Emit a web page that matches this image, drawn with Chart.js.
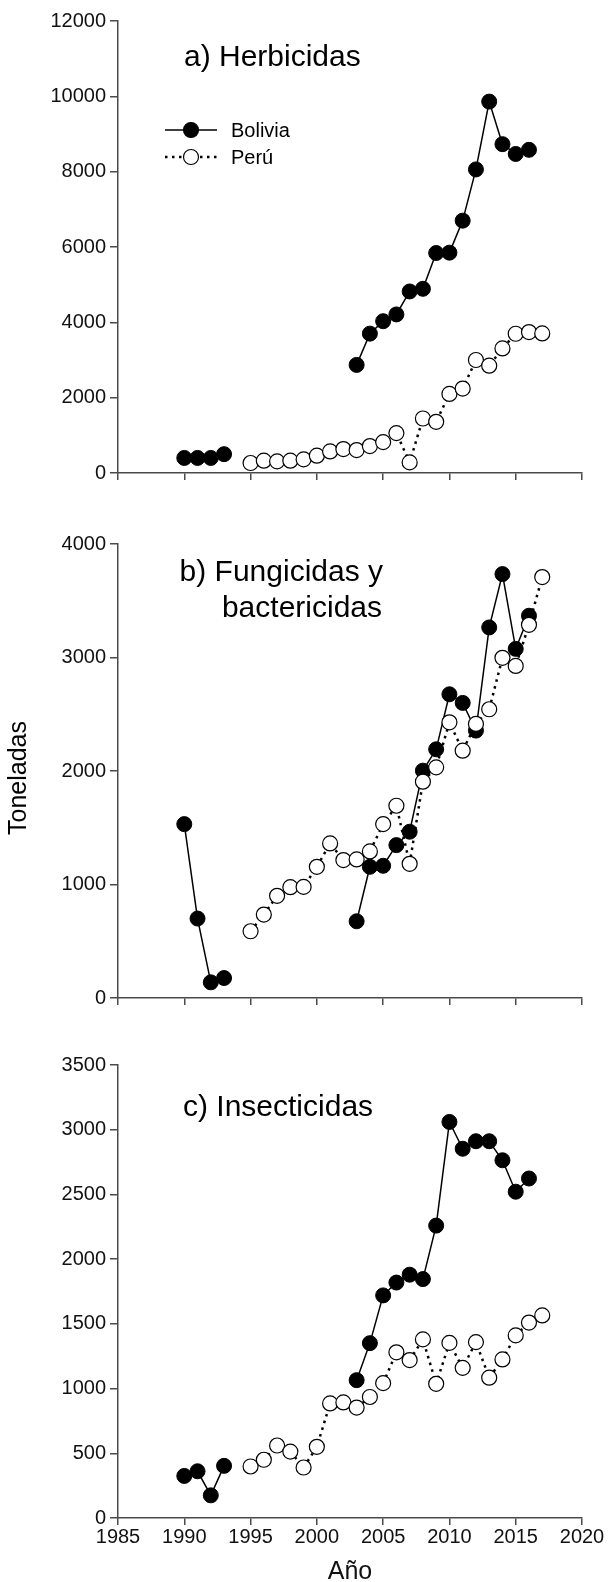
<!DOCTYPE html>
<html><head><meta charset="utf-8">
<script src="https://cdn.jsdelivr.net/npm/chart.js@4.4.0/dist/chart.umd.min.js"></script>
<style>
html,body{margin:0;padding:0;background:#fff;}
#wrap{position:relative;width:608px;height:1582px;overflow:hidden;background:#fff;}
canvas{position:absolute;left:0;}
</style></head><body>
<div id="wrap">
<canvas id="ca" width="608" height="500" style="top:0px"></canvas>
<canvas id="cb" width="608" height="500" style="top:520px"></canvas>
<canvas id="cc" width="608" height="542" style="top:1040px"></canvas>
</div>
<script>
const years = [1990,1991,1992,1993,1994,1995,1996,1997,1998,1999,2000,2001,2002,2003,2004,2005,2006,2007,2008,2009,2010,2011,2012,2013,2014,2015,2016,2017];
const herbBolivia = [400,400,400,500,null,null,null,null,null,null,null,null,null,2870,3700,4030,4210,4820,4890,5840,5850,6700,8060,9860,8730,8470,8580,null];
const herbPeru = [null,null,null,null,null,265,326,309,326,362,459,573,635,609,715,820,1059,282,1447,1359,2100,2241,3000,2850,3308,3697,3741,3705];
const fungBolivia = [1532,700,138,176,null,null,null,null,null,null,null,null,null,676,1156,1165,1347,1465,2003,2191,2676,2600,2356,3265,3735,3076,3368,null];
const fungPeru = [null,null,null,null,null,588,735,900,976,979,1156,1362,1215,1221,1291,1532,1694,1182,1906,2032,2429,2179,2415,2544,2997,2926,3288,3709];
const insBolivia = [325,361,175,403,null,null,null,null,null,null,null,null,null,1065,1351,1720,1819,1880,1846,2259,3060,2853,2911,2911,2764,2521,2623,null];
const insPeru = [null,null,null,null,null,398,450,560,513,390,550,885,893,853,935,1042,1280,1220,1380,1037,1353,1160,1359,1084,1225,1411,1510,1565];
const xTicks = [1985,1990,1995,2000,2005,2010,2015,2020];
const seriesNames = ['Bolivia','Perú'];

const FONT = '"Liberation Sans", Arial, Helvetica, sans-serif';
const AXC = '#4a4a4a';

function pts(arr){ return years.map((yr,i)=>({x:yr, y:arr[i]})); }

const textPlugin = {
  id:'texts',
  afterDraw(chart, args, opts){
    const ctx = chart.ctx;
    ctx.save();
    (opts.items||[]).forEach(t=>{
      ctx.save();
      ctx.font = t.size + 'px ' + FONT;
      ctx.fillStyle = '#000';
      ctx.textAlign = t.align || 'left';
      ctx.textBaseline = 'middle';
      ctx.translate(t.x, t.y);
      if (t.rot) ctx.rotate(t.rot);
      ctx.fillText(t.text, 0, 0);
      ctx.restore();
    });
    if (opts.legend){
      const L = opts.legend;
      L.rows.forEach((r,i)=>{
        const y = L.y + i*L.dy;
        ctx.beginPath();
        ctx.lineWidth = r.dash ? 2.5 : 1.5;
        ctx.setLineDash(r.dash ? [2.5,4.5] : []);
        ctx.strokeStyle = '#000';
        ctx.moveTo(L.x0, y); ctx.lineTo(L.x1, y); ctx.stroke();
        ctx.setLineDash([]);
        ctx.beginPath();
        ctx.arc((L.x0+L.x1)/2, y, 7.5, 0, Math.PI*2);
        ctx.fillStyle = r.fill; ctx.fill();
        ctx.lineWidth = 1.2; ctx.strokeStyle = '#000'; ctx.stroke();
        ctx.fillStyle = '#000';
        ctx.font = L.size + 'px ' + FONT;
        ctx.textAlign = 'left'; ctx.textBaseline = 'middle';
        ctx.fillText(r.label, L.tx, y + 1);
      });
    }
    ctx.restore();
  }
};

function makeChart(id, bol, per, yMax, yStep, padTop, xHeight, showX, texts, legend){
  const ds = [
    {label: seriesNames[1], data: pts(per), borderColor:'#000', borderWidth:2.5, borderDash:[2.5,4.5],
     pointRadius:7.5, pointHoverRadius:7.5, pointBackgroundColor:'#fff', pointBorderColor:'#000', pointBorderWidth:1.2,
     spanGaps:false, tension:0, fill:false, clip:false},
    {label: seriesNames[0], data: pts(bol), borderColor:'#000', borderWidth:1.5,
     pointRadius:7.5, pointHoverRadius:7.5, pointBackgroundColor:'#000', pointBorderColor:'#000', pointBorderWidth:1,
     spanGaps:false, tension:0, fill:false, clip:false}
  ];
  return new Chart(document.getElementById(id), {
    type:'line',
    data:{datasets: ds},
    options:{
      responsive:false, animation:false, devicePixelRatio:1,
      layout:{padding:{top:padTop, right:26, left:0, bottom:0}},
      plugins:{legend:{display:false}, tooltip:{enabled:false}, texts:{items:texts, legend:legend}},
      scales:{
        x:{type:'linear', min:1985, max:2020,
          afterBuildTicks(s){ s.ticks = xTicks.map(v=>({value:v})); },
          afterFit(s){ s.height = xHeight; },
          border:{display:true, color:AXC, width:1.5},
          grid:{drawOnChartArea:false, drawTicks:true, tickLength:7, color:AXC, lineWidth:1.5},
          ticks:{display:true, padding:0, color:'#111', font:{family:FONT, size:20},
            callback:(v)=> showX ? String(v) : ''},
          title:{display:showX, text:'Año', color:'#111', font:{family:FONT, size:25, lineHeight:0.8}, padding:{top:0,bottom:0}}
        },
        y:{type:'linear', min:0, max:yMax,
          afterFit(s){ s.width = 118; },
          border:{display:true, color:AXC, width:1.5},
          grid:{drawOnChartArea:false, drawTicks:true, tickLength:8, color:AXC, lineWidth:1.5},
          ticks:{stepSize:yStep, padding:4, color:'#111', font:{family:FONT, size:20},
            callback:(v)=> String(v)}
        }
      }
    },
    plugins:[textPlugin]
  });
}

makeChart('ca', herbBolivia, herbPeru, 12000, 2000, 21, 27, false,
  [{text:'a) Herbicidas', x:184, y:58, size:30}],
  {x0:165, x1:217, tx:231, y:130, dy:27, size:20,
   rows:[{label:'Bolivia', fill:'#000', dash:false},{label:'Perú', fill:'#fff', dash:true}]});
makeChart('cb', fungBolivia, fungPeru, 4000, 1000, 24, 22, false,
  [{text:'b) Fungicidas y', x:383, y:53, size:30, align:'right'},
   {text:'bactericidas', x:382, y:89, size:30, align:'right'},
   {text:'Toneladas', x:19, y:258, size:25, align:'center', rot:-Math.PI/2}], null);
makeChart('cc', insBolivia, insPeru, 3500, 500, 25, 64, true,
  [{text:'c) Insecticidas', x:183, y:68, size:30}], null);
</script>
</body></html>
